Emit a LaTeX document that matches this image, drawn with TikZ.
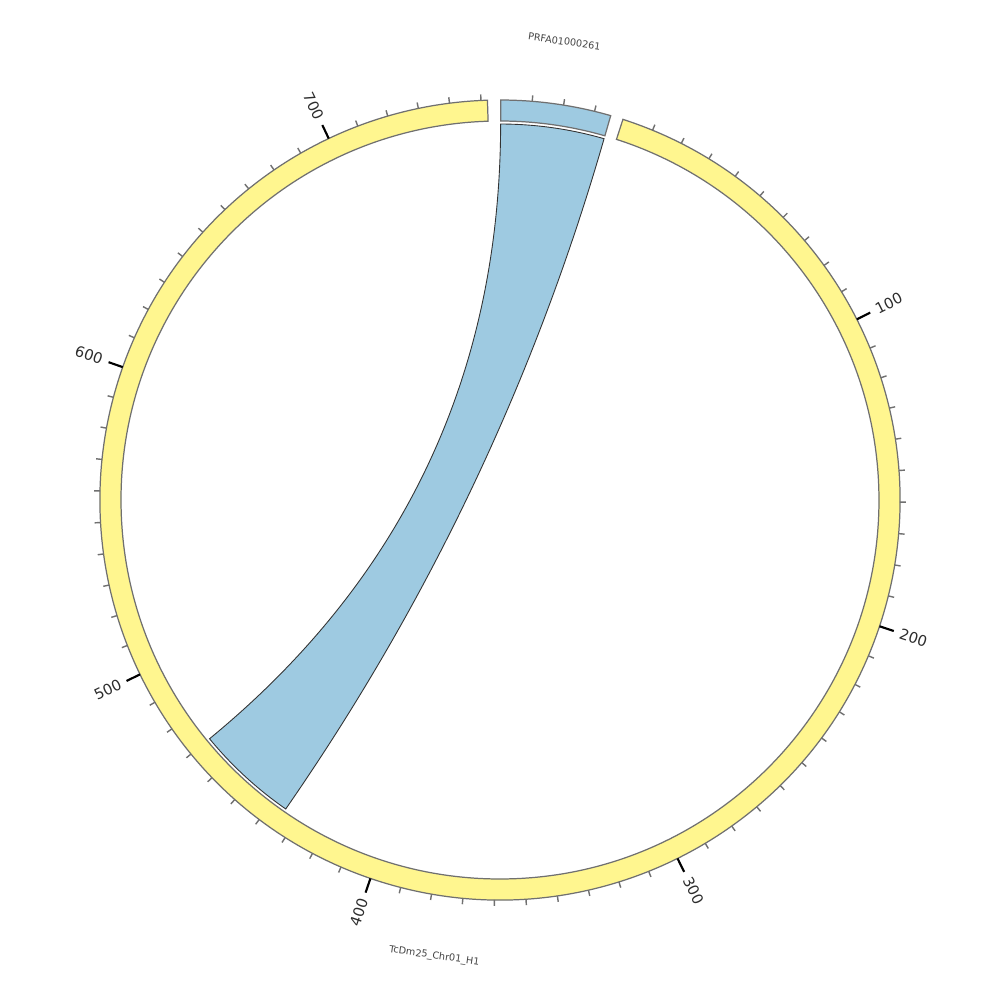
\documentclass[tikz,border=0pt]{standalone}
\usepackage{fontspec}
\setmainfont{DejaVu Sans}
\definecolor{ringyellow}{RGB}{255,246,143}
\definecolor{ringblue}{RGB}{158,202,225}
\definecolor{ringedge}{RGB}{112,112,112}
\definecolor{labelgray}{RGB}{45,45,45}
\definecolor{titlegray}{RGB}{68,68,68}
\begin{document}
\begin{tikzpicture}[x=0.1mm,y=0.1mm,
  ring/.style={draw=ringedge,line width=0.35pt},
  ribbon/.style={fill=ringblue,draw=black!80,line width=0.25pt},
  minortick/.style={draw=ringedge,line width=0.4pt},
  majortick/.style={draw=black,line width=0.6pt},
  ticklabel/.style={inner sep=0pt,text=labelgray,font=\fontsize{4.2}{5}\selectfont},
  chrlabel/.style={inner sep=0pt,text=titlegray,font=\fontsize{2.75}{3.3}\selectfont}]
\useasboundingbox (-500,-500) rectangle (500,500);
\fill[white] (-500,-500) rectangle (500,500);
% yellow chromosome: theta = 17.9 + 0.4525 v, tikz angle = 90 - theta
\path[ring,fill=ringyellow] (72.1:400) arc[start angle=72.1,end angle=-268.2,radius=400]
  -- (-268.2:379) arc[start angle=-268.2,end angle=72.1,radius=379] -- cycle;
% blue chromosome
\path[ring,fill=ringblue] (89.9:400) arc[start angle=89.9,end angle=73.93,radius=400]
  -- (73.93:379) arc[start angle=73.93,end angle=89.9,radius=379] -- cycle;
% ticks on blue
\foreach \v in {10,20,30}{
  \draw[minortick] ({89.9-0.4525*\v}:400) -- ({89.9-0.4525*\v}:406);
}
% ticks on yellow
\foreach \v in {10,20,...,750}{
  \draw[minortick] ({72.1-0.4525*\v}:400) -- ({72.1-0.4525*\v}:406);
}
\foreach \v in {100,200,300}{
  \pgfmathsetmacro\a{72.1-0.4525*\v}
  \draw[majortick] (\a:400) -- (\a:415);
  \node[ticklabel,anchor=west,rotate=\a] (lab\v) at (\a:421) {\v};
}
\foreach \v in {400,500,600,700}{
  \pgfmathsetmacro\a{72.1-0.4525*\v}
  \pgfmathsetmacro\r{\a+180}
  \draw[majortick] (\a:400) -- (\a:415);
  \node[ticklabel,anchor=east,rotate=\r] (lab\v) at (\a:421) {\v};
}
% ribbon
\path[ribbon] (89.9:376) arc[start angle=89.9,end angle=73.93,radius=376]
  .. controls (73.93:125.33) and (-124.74:125.33) .. (-124.74:376)
  arc[start angle=-124.74,end angle=-140.58,radius=376]
  .. controls (-140.58:125.33) and (89.9:125.33) .. (89.9:376) -- cycle;
% chromosome names
\node[chrlabel,rotate=-8.0] (nameblue) at (82.0:463) {PRFA01000261};
\node[chrlabel,rotate=-8.1] (nameyellow) at (-98.2:461) {TcDm25\_Chr01\_H1};
\end{tikzpicture}
\end{document}
